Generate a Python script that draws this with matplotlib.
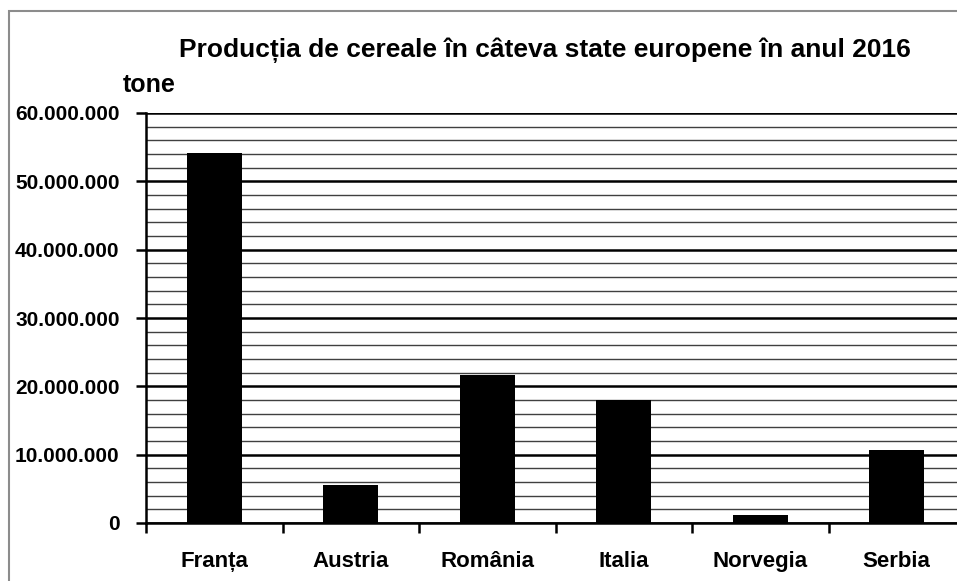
import matplotlib
matplotlib.use("Agg")
import matplotlib.pyplot as plt
from matplotlib.patches import Rectangle
from matplotlib.ticker import MultipleLocator, FuncFormatter

# date - productia de cereale 2016 (tone)
tari = ["Franța", "Austria", "România", "Italia", "Norvegia", "Serbia"]
productie = [54200000, 5600000, 21700000, 18000000, 1100000, 10700000]

plt.rcParams['font.family'] = ['Liberation Sans', 'DejaVu Sans']
plt.rcParams['font.weight'] = 'bold'

fig = plt.figure(figsize=(9.57, 5.81), dpi=100)
ax = fig.add_axes([146/957, 58/581, 819/957, 410/581])

# chenar gri in jurul graficului
fig.patches.append(Rectangle((9/957, -0.05), 1.2, (581-11)/581 + 0.05,
                             transform=fig.transFigure, fill=False,
                             edgecolor='#8c8c8c', linewidth=1.5))

x = range(len(tari))
ax.bar(x, productie, width=0.4, color='black', zorder=3)

ax.set_ylim(0, 60000000)
ax.set_xlim(-0.5, len(tari) - 0.5)
ax.yaxis.set_major_locator(MultipleLocator(10000000))
ax.yaxis.set_minor_locator(MultipleLocator(2000000))
ax.yaxis.set_major_formatter(FuncFormatter(lambda v, p: f"{int(v):,}".replace(",", ".")))
ax.grid(axis='y', which='minor', color='#404040', linewidth=1.0, zorder=0)
ax.grid(axis='y', which='major', color='black', linewidth=1.8, zorder=0)

ax.set_xticks([i - 0.5 for i in range(len(tari) + 1)])
ax.set_xticklabels([])
ax.set_xticks(list(x), minor=True)
ax.set_xticklabels(tari, minor=True, fontsize=16, fontweight='bold')
ax.tick_params(axis='x', which='major', direction='out', length=7, width=1.8)
ax.tick_params(axis='x', which='minor', length=0, pad=20)
ax.tick_params(axis='y', which='major', direction='out', length=7, width=1.8, pad=12, labelsize=15)
ax.tick_params(axis='y', which='minor', length=0)
for lbl in ax.get_yticklabels():
    lbl.set_fontweight('bold')

for s in ['top', 'right']:
    ax.spines[s].set_visible(False)
ax.spines['left'].set_linewidth(1.8)
ax.spines['bottom'].set_linewidth(1.8)

fig.text(545/957, 1 - 50/581, "Producția de cereale în câteva state europene în anul 2016",
         ha='center', va='center', fontsize=19, fontweight='bold')
fig.text(123/957, 1 - 85/581, "tone", ha='left', va='center', fontsize=18, fontweight='bold')

fig.savefig("out.png", dpi=100)
